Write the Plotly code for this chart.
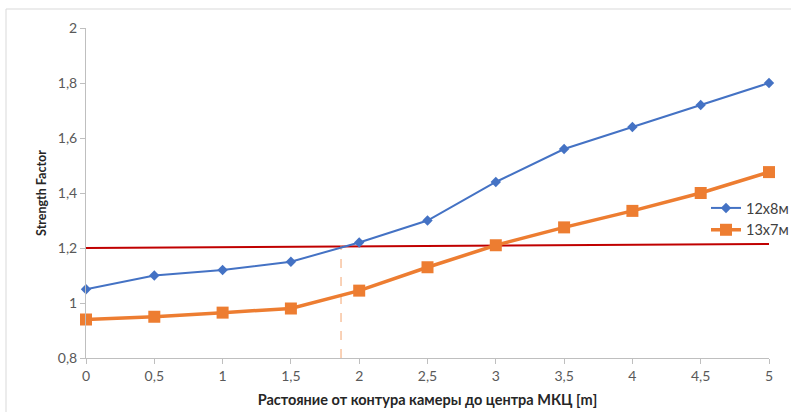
import plotly.graph_objects as go

x_vals = [0, 0.5, 1, 1.5, 2, 2.5, 3, 3.5, 4, 4.5, 5]
s1_name = "12x8м"
s1_vals = [1.05, 1.10, 1.12, 1.15, 1.22, 1.30, 1.44, 1.56, 1.64, 1.72, 1.80]
s2_name = "13x7м"
s2_vals = [0.94, 0.95, 0.965, 0.98, 1.045, 1.13, 1.21, 1.275, 1.335, 1.40, 1.476]
ref_x = [0, 5]
ref_y = [1.20, 1.215]
cross_x = [1.867, 1.867]
cross_y = [0.8, 1.21]
x_title = "Растояние от контура камеры до центра МКЦ [m]"
y_title = "Strength Factor"

W, H = 791, 412
L, R, T, B = 86, 22, 28, 54
pw, ph = W - L - R, H - T - B

fig = go.Figure()
fig.add_trace(go.Scatter(x=ref_x, y=ref_y, mode="lines", line=dict(color="#C00000", width=2),
                         showlegend=False, hoverinfo="skip"))
fig.add_trace(go.Scatter(x=cross_x, y=cross_y, mode="lines",
                         line=dict(color="#F4A46F", width=1, dash="dash"),
                         showlegend=False, hoverinfo="skip"))
fig.add_trace(go.Scatter(x=x_vals, y=s1_vals, name=s1_name, mode="lines+markers",
                         line=dict(color="#4472C4", width=2),
                         marker=dict(symbol="diamond", size=8, color="#4472C4"),
                         cliponaxis=False))
fig.add_trace(go.Scatter(x=x_vals, y=s2_vals, name=s2_name, mode="lines+markers",
                         line=dict(color="#ED7D31", width=3.5),
                         marker=dict(symbol="square", size=12, color="#ED7D31"),
                         cliponaxis=False))

font_family = "Lato, Open Sans, sans-serif"
fig.update_layout(
    width=W, height=H,
    margin=dict(l=L, r=R, t=T, b=B, autoexpand=False),
    paper_bgcolor="white", plot_bgcolor="white",
    separators=", ",
    font=dict(family=font_family, size=14, color="#595959"),
    legend=dict(xref="container", yref="container",
                x=706 / W, y=1 - 192 / H, xanchor="left", yanchor="top",
                bgcolor="rgba(0,0,0,0)", font=dict(size=14.5, color="#404040"),
                itemwidth=30, tracegroupgap=10),
    xaxis=dict(range=[0, 5], dtick=0.5, tick0=0, showgrid=False, zeroline=False,
               showline=True, linecolor="#BFBFBF", linewidth=1,
               ticks="outside", ticklen=5, tickcolor="#BFBFBF", automargin=False,
               title=dict(text="<b>" + x_title + "</b>", standoff=12,
                          font=dict(size=14.5, color="#262626"))),
    yaxis=dict(range=[0.8, 2], dtick=0.2, tick0=0.8, showgrid=False, zeroline=False,
               showline=True, linecolor="#BFBFBF", linewidth=1,
               ticks="outside", ticklen=5, tickcolor="#BFBFBF", automargin=False,
               title=dict(text="<b>" + y_title + "</b>", standoff=8,
                          font=dict(size=12.5, color="#262626"))),
    shapes=[dict(type="rect", xref="paper", yref="paper",
                 x0=(6 - L) / pw, x1=(800 - L) / pw,
                 y0=(358 - 420) / ph, y1=(358 - 9) / ph,
                 line=dict(color="#D9D9D9", width=1), layer="below")],
)
fig.write_html("out.html")
